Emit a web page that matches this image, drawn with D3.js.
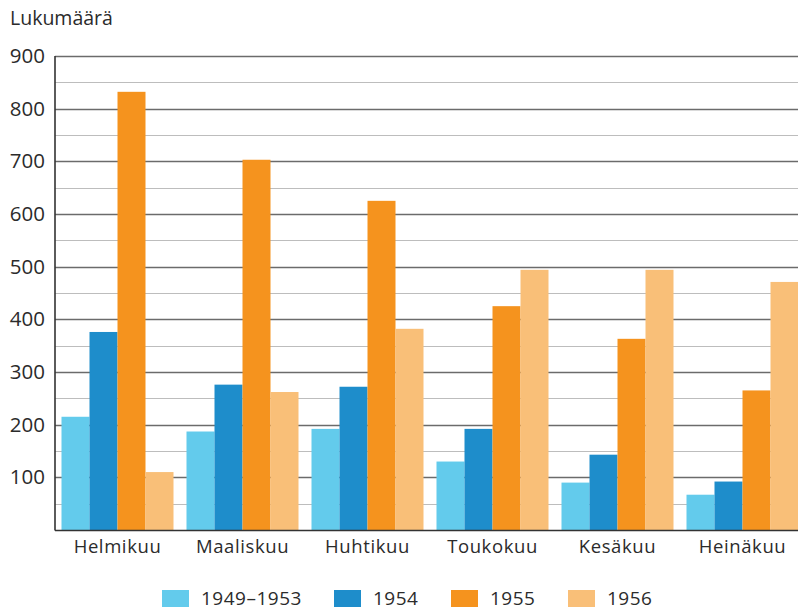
<!DOCTYPE html>
<html>
<head>
<meta charset="utf-8">
<script src="https://cdn.jsdelivr.net/npm/d3@7"></script>
<style>
  body { margin: 0; background: #fff; }
  text { font-family: "Open Sans", "DejaVu Sans", sans-serif; fill: #2b2b2b; }
</style>
</head>
<body>
<svg id="chart" width="798" height="612"></svg>
<script>
var months = ["Helmikuu", "Maaliskuu", "Huhtikuu", "Toukokuu", "Kesäkuu", "Heinäkuu"];
var series = ["1949–1953", "1954", "1955", "1956"];
var colors = ["#63cbec", "#1e8dcb", "#f5931e", "#f9bf78"];
var v4953 = [215, 187, 192, 130, 90, 67];
var v1954 = [376, 276, 272, 192, 143, 92];
var v1955 = [832, 703, 625, 425, 363, 265];
var v1956 = [110, 262, 382, 494, 494, 471];
var yTicks = [100, 200, 300, 400, 500, 600, 700, 800, 900];

var values = [v4953, v1954, v1955, v1956];
var rows = months.map(function(m, i) {
  return {month: m, vals: values.map(function(s) { return s[i]; })};
});

var svg = d3.select("#chart");
var m = {left: 55, right: 805, top: 56, bottom: 530};

var x0 = d3.scaleBand().domain(months).range([m.left, m.right])
  .paddingInner(0.104).paddingOuter(0.052);
var x1 = d3.scaleBand().domain(d3.range(series.length)).range([0, x0.bandwidth()]);
var y = d3.scaleLinear().domain([0, 900]).range([m.bottom, m.top]);

// gridlines, light at 50s, darker at 100s
var grid = svg.append("g");
d3.range(50, 901, 50).forEach(function(v) {
  grid.append("line")
    .attr("x1", m.left).attr("x2", 798)
    .attr("y1", Math.round(y(v)) + 0.5).attr("y2", Math.round(y(v)) + 0.5)
    .attr("stroke", v % 100 === 0 ? "#6b6b6b" : "#bdbdbd")
    .attr("stroke-width", v % 100 === 0 ? 1.5 : 1.2);
});

// bars
svg.append("g").selectAll("g")
  .data(rows).enter().append("g")
  .attr("transform", function(d) { return "translate(" + x0(d.month) + ",0)"; })
  .selectAll("rect")
  .data(function(d) { return d.vals; })
  .enter().append("rect")
  .attr("x", function(d, i) { return x1(i); })
  .attr("width", x1.bandwidth())
  .attr("y", function(d) { return y(d); })
  .attr("height", function(d) { return m.bottom - y(d); })
  .attr("fill", function(d, i) { return colors[i]; });

// axes lines
svg.append("line").attr("x1", m.left).attr("x2", m.left).attr("y1", m.top).attr("y2", m.bottom + 0.5)
  .attr("stroke", "#333").attr("stroke-width", 1.6);
svg.append("line").attr("x1", m.left).attr("x2", 798).attr("y1", m.bottom + 0.5).attr("y2", m.bottom + 0.5)
  .attr("stroke", "#333").attr("stroke-width", 1.6);

// y tick labels
var yAxis = d3.axisLeft(y).tickValues(yTicks).tickSize(0).tickPadding(10);
var ya = svg.append("g").attr("transform", "translate(" + m.left + ",0)").call(yAxis);
ya.select(".domain").remove();
ya.selectAll("text").style("font-size", "20.5px").attr("fill", "#2b2b2b")
  .style("font-family", "'Open Sans', 'DejaVu Sans', sans-serif");

// x labels
var xAxis = d3.axisBottom(x0).tickSize(0).tickPadding(10);
var xa = svg.append("g").attr("transform", "translate(0," + m.bottom + ")").call(xAxis);
xa.select(".domain").remove();
xa.selectAll("text").style("font-size", "18.5px").style("letter-spacing", "0.6px").attr("fill", "#2b2b2b")
  .style("font-family", "'Open Sans', 'DejaVu Sans', sans-serif");

// title
svg.append("text").attr("x", 10).attr("y", 25).style("font-size", "19.5px").text("Lukumäärä");

// legend
var legendX = [162, 334, 451, 568];
var lg = svg.append("g").selectAll("g").data(series).enter().append("g")
  .attr("transform", function(d, i) { return "translate(" + legendX[i] + ",590)"; });
lg.append("rect").attr("width", 27).attr("height", 17)
  .attr("fill", function(d, i) { return colors[i]; });
lg.append("text").attr("x", 39).attr("y", 15).style("font-size", "19px").style("letter-spacing", "0.5px")
  .text(function(d) { return d; });
</script>
</body>
</html>
